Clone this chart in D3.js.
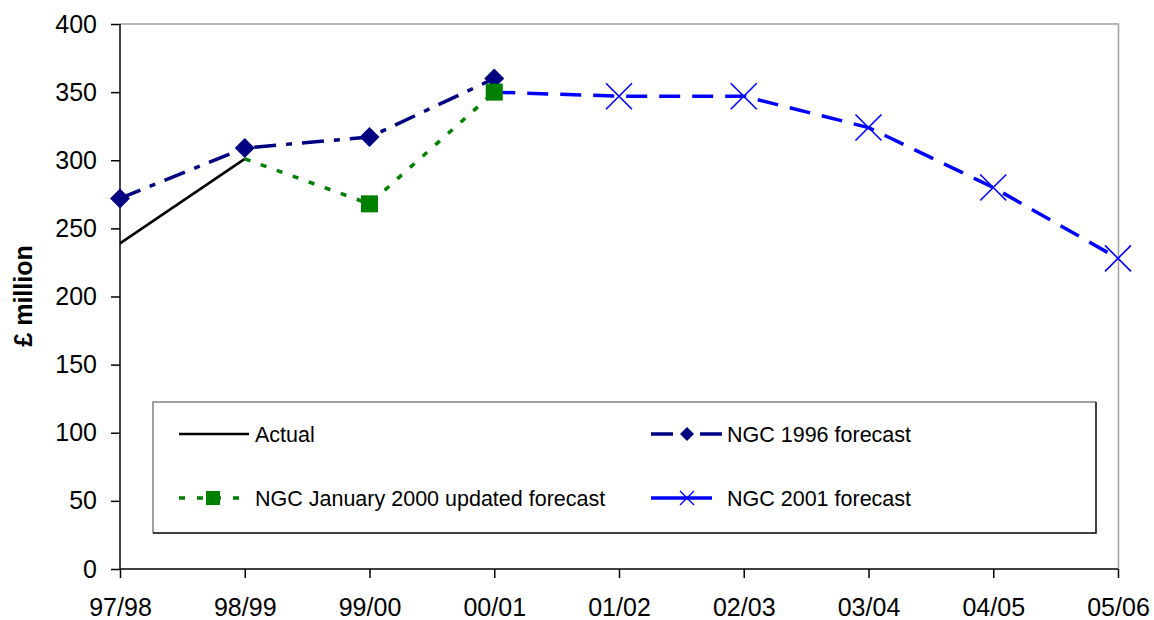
<!DOCTYPE html>
<html>
<head>
<meta charset="utf-8">
<script src="https://cdn.jsdelivr.net/npm/d3@7"></script>
<style>
  html, body { margin: 0; padding: 0; background: #fff; }
  svg { display: block; font-family: "Liberation Sans", Arial, sans-serif; }
</style>
</head>
<body>
<svg id="chart" width="1154" height="620"></svg>
<script>
// Financial years on the horizontal axis
const years = ["97/98", "98/99", "99/00", "00/01", "01/02", "02/03", "03/04", "04/05", "05/06"];
const yTicks = [0, 50, 100, 150, 200, 250, 300, 350, 400];

// £ million, per series
const actualYears = ["97/98", "98/99"];
const actualValues = [239, 301];

const ngc1996Years = ["97/98", "98/99", "99/00", "00/01"];
const ngc1996Values = [272, 309, 317, 360];

const ngc2000Years = ["98/99", "99/00", "00/01"];
const ngc2000Values = [301, 268, 350];

const ngc2001Years = ["00/01", "01/02", "02/03", "03/04", "04/05", "05/06"];
const ngc2001Values = [350, 347, 347, 324, 280, 228];

const svg = d3.select("#chart");
const plotLeft = 120, plotRight = 1118, plotTop = 24, plotBottom = 569;

const x = d3.scalePoint().domain(years).range([plotLeft, plotRight]).padding(0);
const y = d3.scaleLinear().domain([0, 400]).range([plotBottom, plotTop]);

// Plot-area frame: grey top and right edges
svg.append("path")
  .attr("d", `M${plotLeft},${plotTop}H${plotRight + 0.5}V${plotBottom}`)
  .attr("fill", "none").attr("stroke", "#a0a0a0").attr("stroke-width", 1.5);

// Y axis
const yAxis = svg.append("g").attr("transform", `translate(${plotLeft},0)`)
  .call(d3.axisLeft(y).tickValues(yTicks).tickSize(9).tickPadding(14));
// X axis
const xAxis = svg.append("g").attr("transform", `translate(0,${plotBottom})`)
  .call(d3.axisBottom(x).tickSize(9).tickPadding(20));

[yAxis, xAxis].forEach(g => {
  g.select(".domain").attr("stroke", "#000").attr("stroke-width", 1.5);
  g.selectAll(".tick line").attr("stroke", "#000").attr("stroke-width", 1.5);
  g.selectAll(".tick text").attr("fill", "#000")
    .style("font-size", "25px").style("font-family", "'Liberation Sans', Arial, sans-serif");
});
yAxis.select(".domain").attr("d", `M0,${plotBottom}V${plotTop}`);
xAxis.select(".domain").attr("d", `M${plotLeft},0H${plotRight}`);

// Axis title
svg.append("text")
  .attr("transform", `translate(31.5,296) rotate(-90)`)
  .attr("text-anchor", "middle")
  .style("font-size", "25px").style("font-weight", "bold")
  .text("£ million");

const line = d3.line().x(d => x(d[0])).y(d => y(d[1]));
const zip = (a, b) => a.map((k, i) => [k, b[i]]);

const actual = zip(actualYears, actualValues);
const n1996 = zip(ngc1996Years, ngc1996Values);
const n2000 = zip(ngc2000Years, ngc2000Values);
const n2001 = zip(ngc2001Years, ngc2001Values);

const styles = {
  actual: { color: "#000000", width: 2.5, dash: null },
  n1996: { color: "#000080", width: 3.5, dash: "22,10,6,10" },
  n2000: { color: "#008000", width: 3.5, dash: "6,11" },
  n2001: { color: "#0000ff", width: 3.5, dash: "21,12" }
};

function drawLine(data, s) {
  svg.append("path").datum(data)
    .attr("d", line)
    .attr("fill", "none")
    .attr("stroke", s.color)
    .attr("stroke-width", s.width)
    .attr("stroke-dasharray", s.dash);
}

drawLine(actual, styles.actual);
drawLine(n2000, styles.n2000);
drawLine(n1996, styles.n1996);
drawLine(n2001, styles.n2001);

// Markers
function diamond(g, cx, cy, r, color) {
  g.append("path")
    .attr("d", `M${cx},${cy - r}L${cx + r},${cy}L${cx},${cy + r}L${cx - r},${cy}Z`)
    .attr("fill", color);
}
function square(g, cx, cy, h, color) {
  g.append("rect").attr("x", cx - h).attr("y", cy - h)
    .attr("width", 2 * h).attr("height", 2 * h).attr("fill", color);
}
function cross(g, cx, cy, h, color, w) {
  g.append("path")
    .attr("d", `M${cx - h},${cy - h}L${cx + h},${cy + h}M${cx - h},${cy + h}L${cx + h},${cy - h}`)
    .attr("stroke", color).attr("stroke-width", w).attr("fill", "none");
}

const marks = svg.append("g");
n1996.forEach(d => diamond(marks, x(d[0]), y(d[1]), 10, styles.n1996.color));
n2000.slice(1).forEach(d => square(marks, x(d[0]), y(d[1]), 8.5, styles.n2000.color));
n2001.slice(1).forEach(d => cross(marks, x(d[0]), y(d[1]), 13, styles.n2001.color, 1.6));

// Legend
const lg = svg.append("g");
const lx0 = 153, ly0 = 402, lx1 = 1096, ly1 = 533;
lg.append("rect").attr("x", lx0).attr("y", ly0).attr("width", lx1 - lx0).attr("height", ly1 - ly0)
  .attr("fill", "#fff").attr("stroke", "none");
lg.append("path").attr("d", `M${lx0},${ly1}V${ly0}H${lx1}`)
  .attr("fill", "none").attr("stroke", "#808080").attr("stroke-width", 1.5);
lg.append("path").attr("d", `M${lx1},${ly0}V${ly1}H${lx0}`)
  .attr("fill", "none").attr("stroke", "#000").attr("stroke-width", 1.5);

const row1 = 434, row2 = 498;
function legendText(tx, ty, label) {
  lg.append("text").attr("x", tx).attr("y", ty + 8)
    .style("font-size", "21.5px").attr("fill", "#000").text(label);
}
// Actual
lg.append("line").attr("x1", 179).attr("x2", 249).attr("y1", row1).attr("y2", row1)
  .attr("stroke", "#000").attr("stroke-width", 2.5);
legendText(255, row1, "Actual");
// NGC January 2000 updated forecast
lg.append("line").attr("x1", 179).attr("x2", 246).attr("y1", row2).attr("y2", row2)
  .attr("stroke", styles.n2000.color).attr("stroke-width", 3.5).attr("stroke-dasharray", "6,12");
square(lg, 213, row2, 7, styles.n2000.color);
legendText(255, row2, "NGC January 2000 updated forecast");
// NGC 1996 forecast
lg.append("line").attr("x1", 651).attr("x2", 723).attr("y1", row1).attr("y2", row1)
  .attr("stroke", styles.n1996.color).attr("stroke-width", 3.5).attr("stroke-dasharray", "22,27");
diamond(lg, 687, row1, 7, styles.n1996.color);
legendText(727, row1, "NGC 1996 forecast");
// NGC 2001 forecast
lg.append("line").attr("x1", 651).attr("x2", 712).attr("y1", row2).attr("y2", row2)
  .attr("stroke", styles.n2001.color).attr("stroke-width", 3.5);
cross(lg, 687, row2, 7, styles.n2001.color, 1.4);
legendText(727, row2, "NGC 2001 forecast");
</script>
</body>
</html>
